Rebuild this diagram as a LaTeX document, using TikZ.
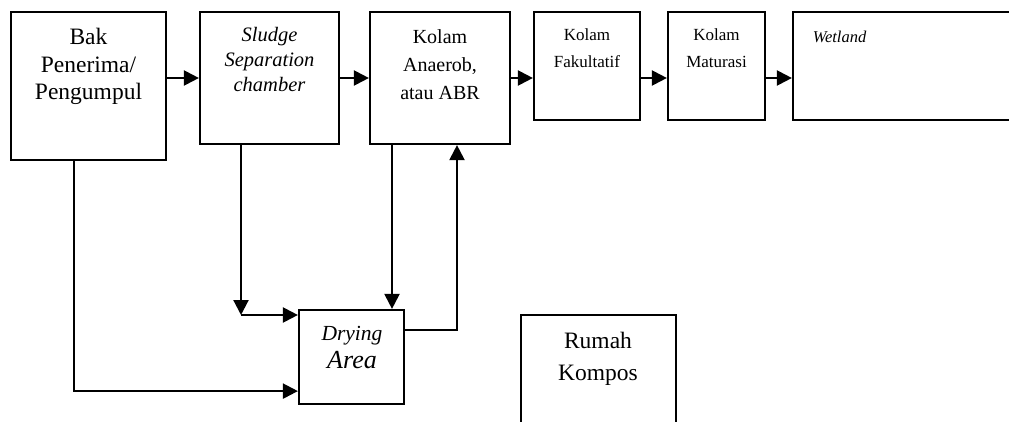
\documentclass[tikz,border=0pt]{standalone}
\usepackage{fontspec}
\setmainfont{Liberation Serif}
\usetikzlibrary{arrows.meta}
\tikzset{
  box/.style={draw, line width=2.2pt, inner sep=0pt, minimum width=#1},
  txt/.style={align=center, inner sep=0pt, anchor=base},
  arr/.style={line width=2.2pt, -{Triangle[length=15pt,width=15pt]}}
}
\newcommand{\fs}[2]{\fontsize{#1}{#2}\selectfont}
\begin{document}
\begin{tikzpicture}[x=1pt,y=-1pt]
\useasboundingbox (0,0) rectangle (1009,422);
% process boxes
\node[box=155, minimum height=148] (bak) at (88.5,86) {};
\node[box=139, minimum height=132] (sludge) at (269.5,78) {};
\node[box=140, minimum height=132] (kolam) at (440,78) {};
\node[box=106, minimum height=108] (fak) at (587,66) {};
\node[box=97, minimum height=108] (mat) at (716.5,66) {};
\node[box=240, minimum height=108] (wet) at (913,66) {};
\node[box=105, minimum height=94] (dry) at (351.5,357) {};
\node[box=155, minimum height=130] (rumah) at (598.5,380) {};
% labels (placed at the baseline of their last line)
\node[txt, font=\fs{23.5}{27.5}] (tbak) at (88.5,100) {Bak\\Penerima/\\Pengumpul};
\node[txt, font=\fs{20.5}{25.2}\itshape] (tsludge) at (269.5,92) {Sludge\\Separation\\chamber};
\node[txt, font=\fs{20}{28}] (tkolam) at (440,100) {Kolam\\Anaerob,\\atau ABR};
\node[txt, font=\fs{17}{27}] (tfak) at (587,68) {Kolam\\Fakultatif};
\node[txt, font=\fs{17}{27}] (tmat) at (716.5,68) {Kolam\\Maturasi};
\node[txt, font=\fs{16.5}{20}\itshape] (twet) at (839.5,43) {Wetland};
\node[txt, font=\fs{21.5}{26}\itshape] (tdry1) at (352,340) {Drying};
\node[txt, font=\fs{26}{30}\itshape] (tdry2) at (352,368) {Area};
\node[txt, font=\fs{23.5}{32}] (trumah) at (598,380) {Rumah\\Kompos};
% main treatment line
\draw[arr] (sludge.west -| bak.east) -- (sludge.west);
\draw[arr] (sludge.east) -- (kolam.west);
\draw[arr] (kolam.east) -- (kolam.east -| fak.west);
\draw[arr] (fak.east |- kolam.east) -- (mat.west |- kolam.east);
\draw[arr] (mat.east |- kolam.east) -- (wet.west |- kolam.east);
% sludge lines to the drying area
\coordinate (slc) at (241,315);
\draw[arr] ([xshift=-14.5pt]bak.south) |- ([yshift=14pt]dry.south west);
\draw[arr] ([xshift=-28.5pt]sludge.south) -- (slc);
\draw[arr] (slc) -- (slc -| dry.west);
\draw[arr] ([xshift=-48pt]kolam.south) -- ([xshift=-48pt]kolam.south |- dry.north);
\draw[arr] ([yshift=27pt]dry.east) -| ([xshift=17pt]kolam.south);
\end{tikzpicture}
\end{document}
